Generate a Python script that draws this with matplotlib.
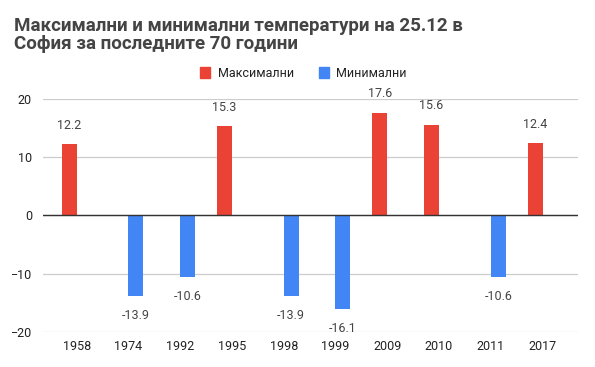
import matplotlib.pyplot as plt
import numpy as np

years = ["1958", "1974", "1992", "1995", "1998", "1999", "2009", "2010", "2011", "2017"]
max_temp = [12.2, None, None, 15.3, None, None, 17.6, 15.6, None, 12.4]
min_temp = [None, -13.9, -10.6, None, -13.9, -16.1, None, None, -10.6, None]
y_ticks = [-20, -10, 0, 10, 20]

red = "#EA4335"
blue = "#4285F4"

plt.rcParams['font.family'] = ['Roboto', 'DejaVu Sans']

fig = plt.figure(figsize=(5.95, 3.67), dpi=100)
ax = fig.add_axes([0.0723, 0.0954, 0.8987, 0.635])

x = np.arange(len(years))
w = 0.29

def draw(vals, offset, color):
	for i, v in enumerate(vals):
		if v is None:
			continue
		ax.bar(x[i] + offset, v, width=w, color=color, zorder=3)
		if v >= 0:
			ax.annotate(str(v), (x[i] + offset, v), xytext=(0, 9), textcoords="offset points",
				ha="center", va="bottom", fontsize=9, color="#444444")
		else:
			ax.annotate(str(v), (x[i] + offset, v), xytext=(0, -9), textcoords="offset points",
				ha="center", va="top", fontsize=9, color="#444444")

draw(max_temp, -w / 2, red)
draw(min_temp, w / 2, blue)

ax.set_ylim(-20, 20)
ax.set_xlim(-0.65, 9.68)
ax.set_yticks(y_ticks)
ax.set_xticks(x)
ax.set_xticklabels(years)
ax.tick_params(length=0, labelsize=9, colors="#222222")
ax.tick_params(axis="x", pad=6)
ax.tick_params(axis="y", pad=8)
ax.grid(axis="y", color="#cccccc", linewidth=0.9, zorder=0)
ax.axhline(0, color="#333333", linewidth=1, zorder=4)
for s in ax.spines.values():
	s.set_visible(False)

fig.text(0.024, 0.905, "Максимални и минимални температури на 25.12 в\nСофия за последните 70 години",
	fontsize=13.5, fontweight="bold", color="#444444", va="center", ha="left", linespacing=1.05)

h1 = plt.Rectangle((0, 0), 1, 1, color=red)
h2 = plt.Rectangle((0, 0), 1, 1, color=blue)
fig.legend([h1, h2], ["Максимални", "Минимални"], loc="center", bbox_to_anchor=(0.51, 0.80),
	ncol=2, frameon=False, fontsize=9, handlelength=0.8, handleheight=1.0, columnspacing=2.0,
	handletextpad=0.6, labelcolor="#222222")

fig.savefig("out.png", dpi=100)
